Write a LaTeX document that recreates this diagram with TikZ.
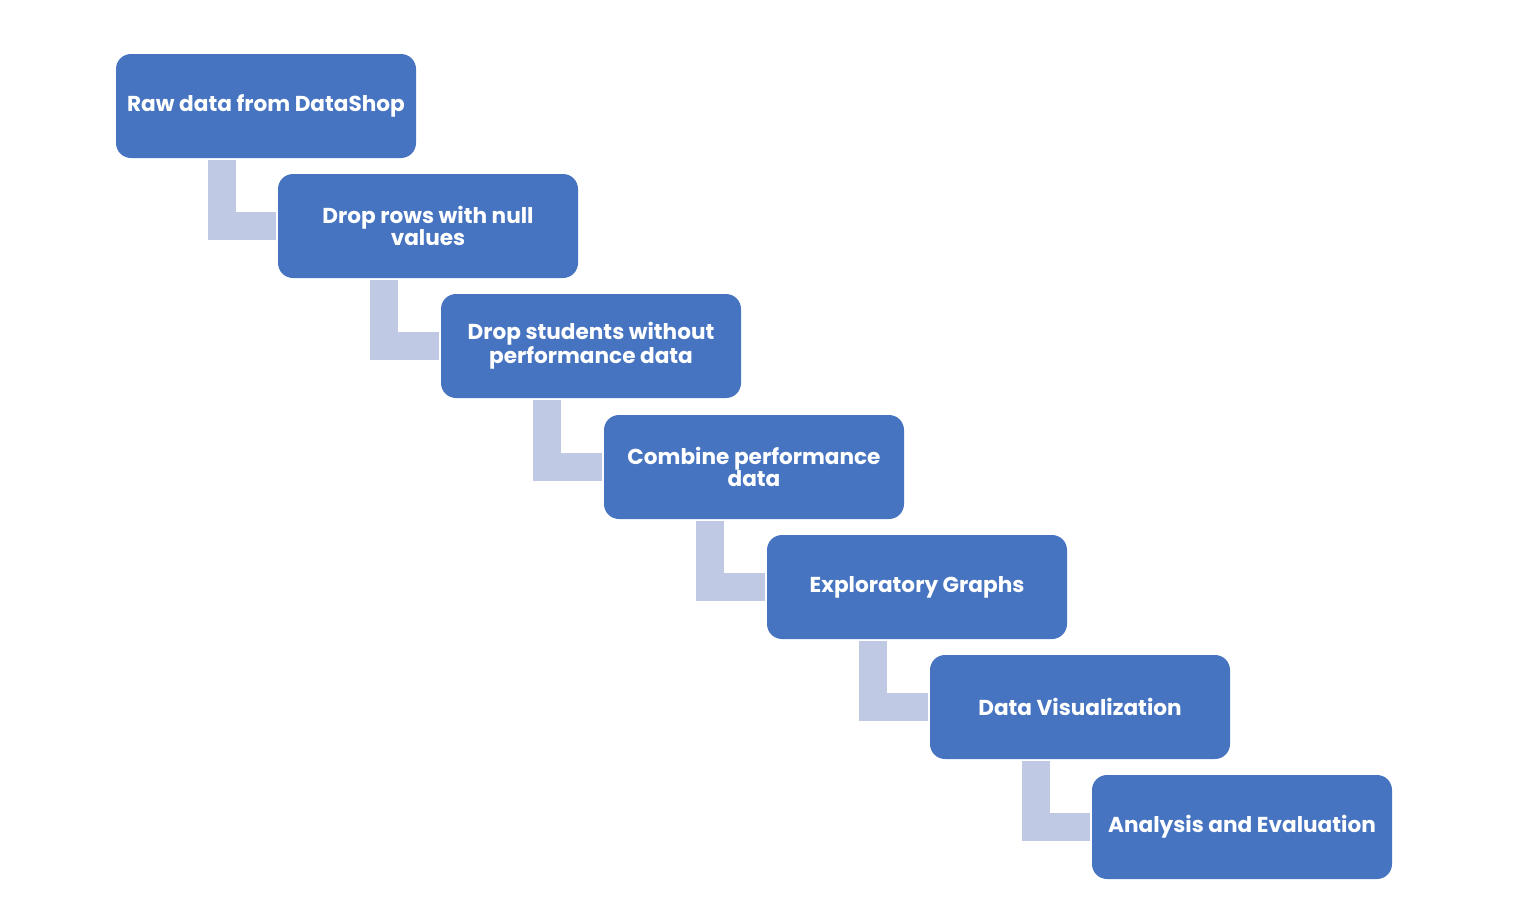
\documentclass[tikz,border=0pt]{standalone}
\usepackage{fontspec}
\setmainfont{Poppins}
\begin{document}
\begin{tikzpicture}[x=1pt,y=-1pt,
  stepbox/.style={fill=boxblue, rounded corners=15pt, minimum width=300pt, minimum height=104pt,
    inner sep=0pt, text=white, align=center, font=\bfseries\fontsize{21.6}{22}\selectfont},
  conn/.style={draw=connblue, line width=28pt, line cap=butt, line join=miter}]
\definecolor{boxblue}{HTML}{4674C1}
\definecolor{connblue}{HTML}{C0C9E4}
\useasboundingbox (0,0) rectangle (1516,900);
\node[stepbox] (b1) at (266,106) {Raw data from DataShop};
\node[stepbox] (b2) at (428,226) {Drop rows with null\\values};
\node[stepbox] (b3) at (591,346) {Drop students without\\performance data};
\node[stepbox] (b4) at (754,467) {Combine performance\\data};
\node[stepbox] (b5) at (917,587) {Exploratory Graphs};
\node[stepbox] (b6) at (1080,707) {Data Visualization};
\node[stepbox] (b7) at (1242,827) {Analysis and Evaluation};
\foreach \a/\b in {b1/b2,b2/b3,b3/b4,b4/b5,b5/b6,b6/b7}{
  \draw[conn] ([xshift=106pt,yshift=-2pt]\a.south west) |- ([xshift=-2pt]\b.west);
}
\end{tikzpicture}
\end{document}
